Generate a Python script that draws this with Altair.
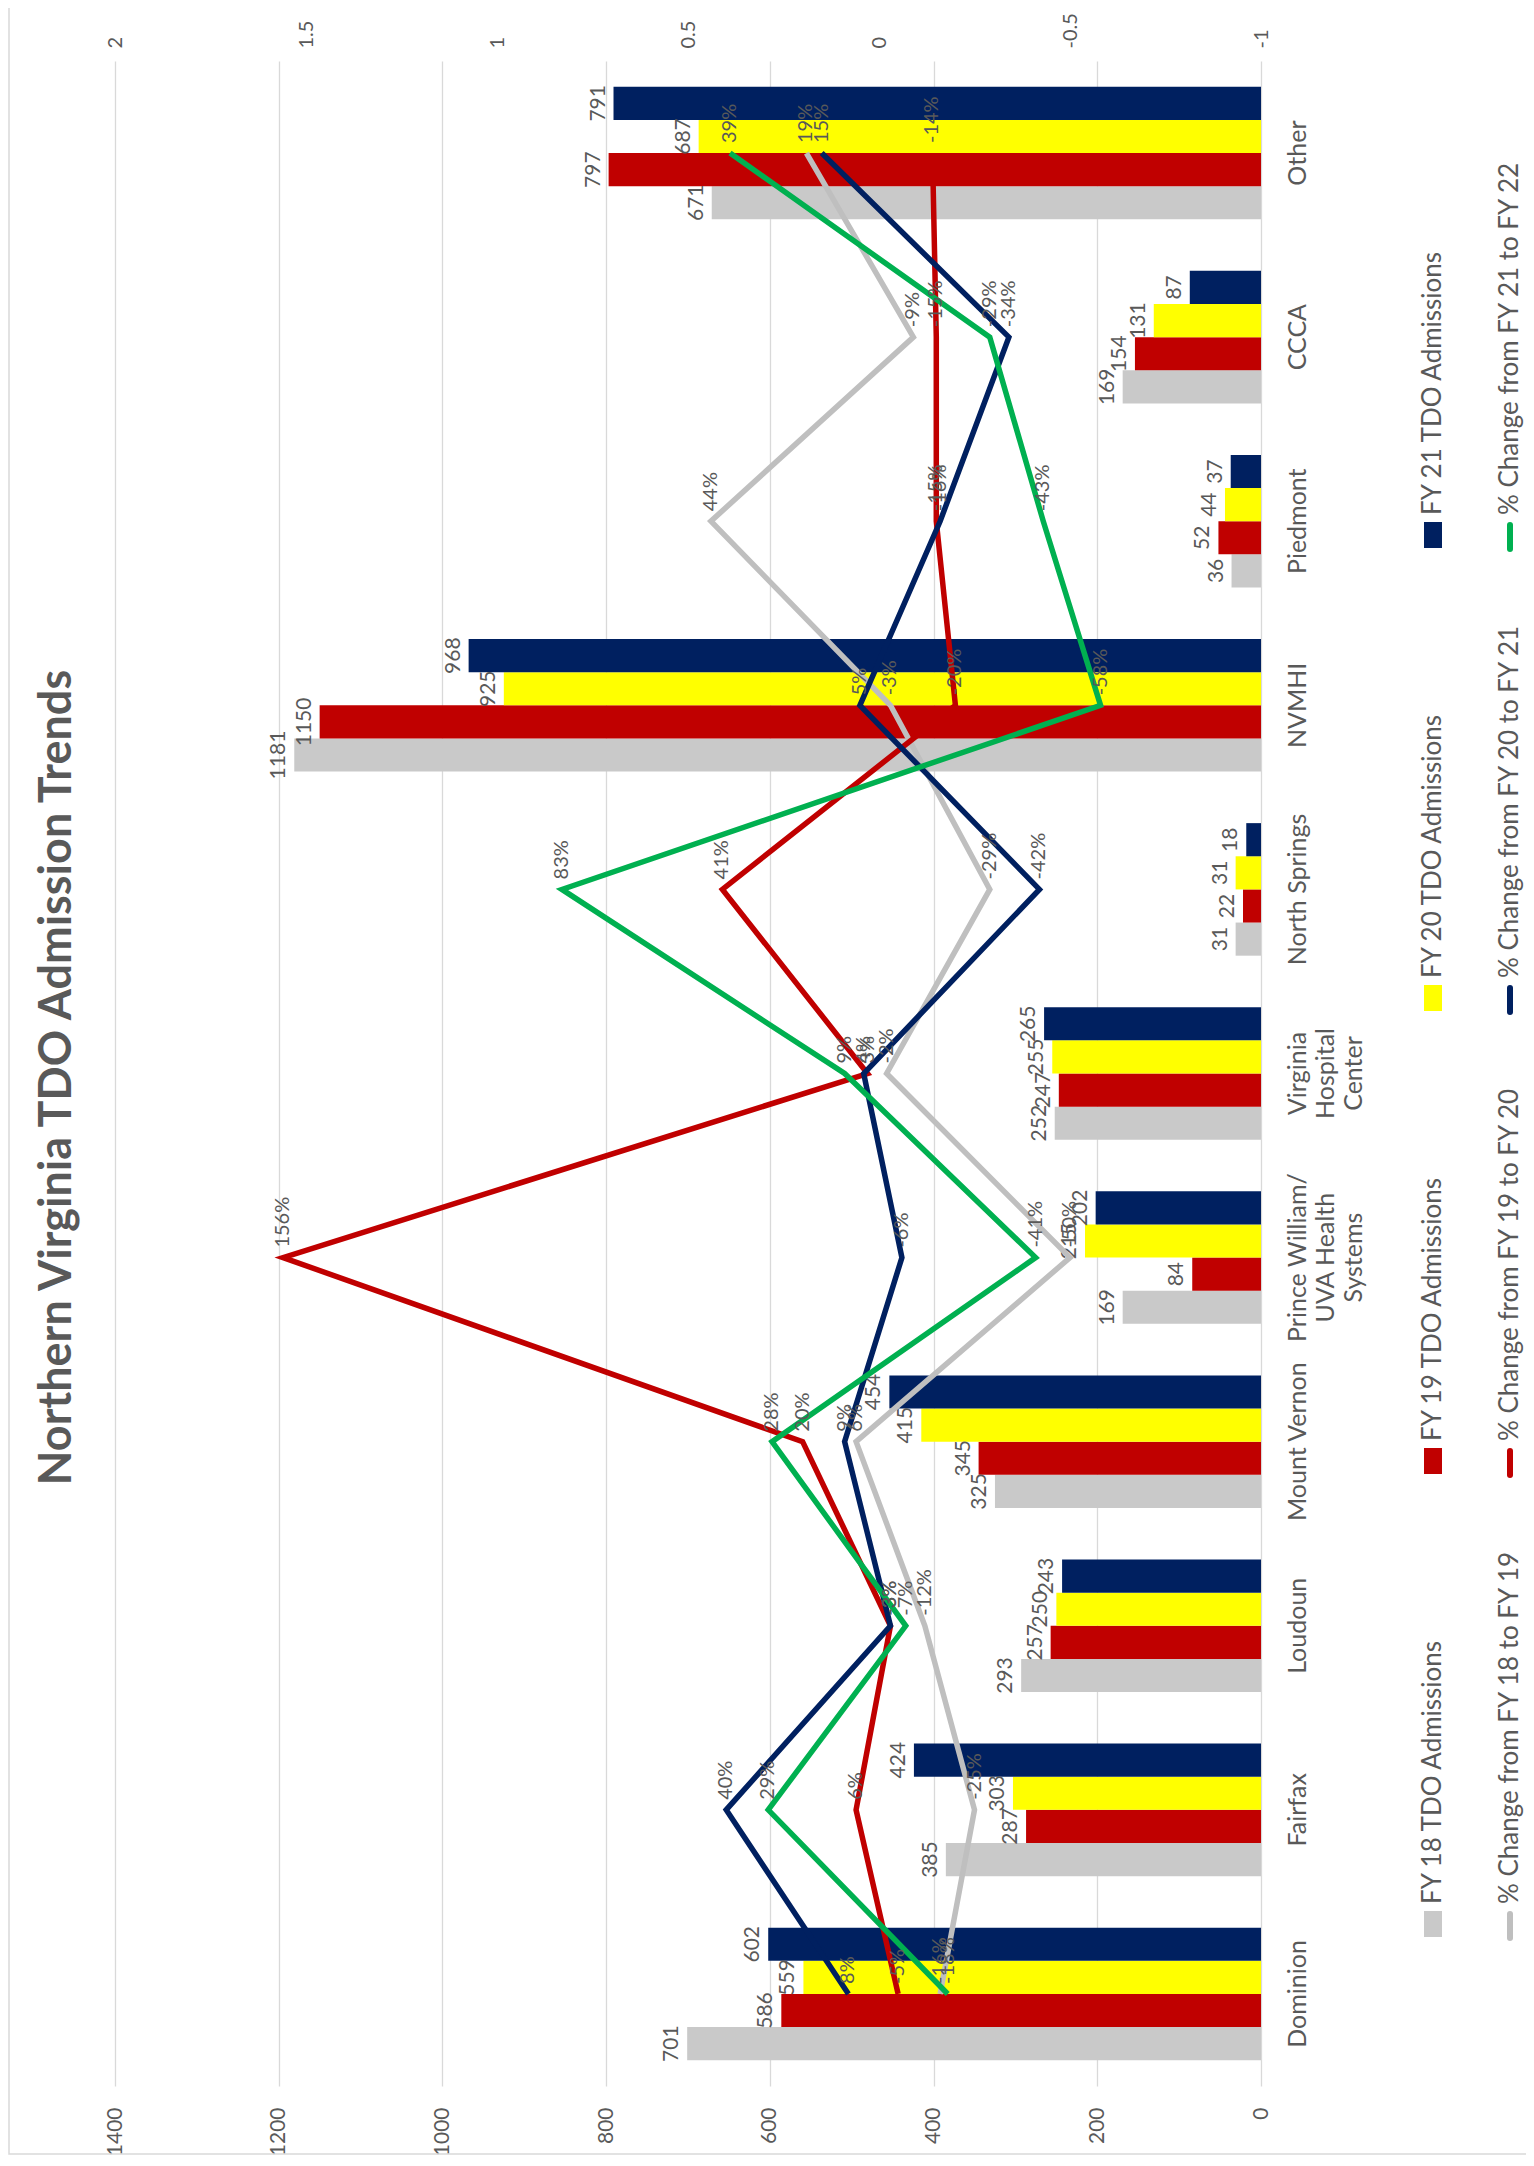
import altair as alt
import pandas as pd

categories = ["Dominion", "Fairfax", "Loudoun", "Mount Vernon",
              "Prince William/ UVA Health Systems", "Virginia Hospital Center",
              "North Springs", "NVMHI", "Piedmont", "CCCA", "Other"]

bar_series = ["FY 18 TDO Admissions", "FY 19 TDO Admissions",
              "FY 20 TDO Admissions", "FY 21 TDO Admissions"]
bar_colors = ["#C9C9C9", "#C00000", "#FFFF00", "#002060"]

fy18 = [701, 385, 293, 325, 169, 252, 31, 1181, 36, 169, 671]
fy19 = [586, 287, 257, 345, 84, 247, 22, 1150, 52, 154, 797]
fy20 = [559, 303, 250, 415, 215, 255, 31, 925, 44, 131, 687]
fy21 = [602, 424, 243, 454, 202, 265, 18, 968, 37, 87, 791]

line_series = ["% Change from FY 18 to FY 19", "% Change from FY 19 to FY 20",
               "% Change from FY 20 to FY 21", "% Change from FY 21 to FY 22"]
line_colors = ["#BFBFBF", "#C00000", "#002060", "#00B050"]

chg_18_19 = [-16, -25, -12, 6, -50, -2, -29, -3, 44, -9, 19]
chg_19_20 = [-5, 6, -3, 20, 156, 3, 41, -20, -15, -15, -14]
chg_20_21 = [8, 40, -3, 9, -6, 4, -42, 5, -16, -34, 15]
chg_21_22 = [-18, 29, -7, 28, -41, 9, 83, -58, -43, -29, 39]

primary_ticks = [0, 200, 400, 600, 800, 1000, 1200, 1400]
secondary_ticks = [-1, -0.5, 0, 0.5, 1, 1.5, 2]

TITLE = "Northern Virginia TDO Admission Trends"
FONT = "Lato"
GREY_TEXT = "#595959"

W, H = 1146, 2025
PAD = {"left": 107, "top": 53, "right": 265, "bottom": 70}

# ---- tables
bar_rows = []
for i, c in enumerate(categories):
    for s, vals in zip(bar_series, [fy18, fy19, fy20, fy21]):
        bar_rows.append({"cat": c, "idx": i, "series": s, "value": vals[i]})
bars_df = pd.DataFrame(bar_rows)

line_rows = []
for s, vals in zip(line_series, [chg_18_19, chg_19_20, chg_20_21, chg_21_22]):
    for i, c in enumerate(categories):
        line_rows.append({"cat": c, "idx": i, "series": s,
                          "pct": vals[i] / 100.0, "lbl": f"{vals[i]}%"})
lines_df = pd.DataFrame(line_rows)

label_expr = ("datum.label == 'Prince William/ UVA Health Systems' ? "
              "['Prince William/', 'UVA Health', 'Systems'] : "
              "datum.label == 'Virginia Hospital Center' ? "
              "['Virginia', 'Hospital', 'Center'] : datum.label")

y_enc = alt.Y("cat:N", sort=categories[::-1],
              scale=alt.Scale(paddingInner=0.28, paddingOuter=0.14),
              axis=alt.Axis(orient="right", title=None, labelAngle=270,
                            labelAlign="center", labelBaseline="top",
                            labelPadding=24, labelFontSize=25, labelFont=FONT,
                            labelColor=GREY_TEXT, domain=False, ticks=False,
                            grid=False, labelExpr=label_expr, labelLineHeight=28))

y_off = alt.YOffset("series:N", sort=bar_series[::-1],
                    scale=alt.Scale(paddingInner=0, paddingOuter=0))

x_primary_scale = alt.Scale(domain=[0, 1400], reverse=True, nice=False, zero=True)
x_primary_axis = alt.Axis(orient="bottom", values=primary_ticks, format="d",
                          title=None, labelAngle=270, labelAlign="right",
                          labelBaseline="middle", labelPadding=21,
                          labelFontSize=21, labelFont=FONT, labelColor=GREY_TEXT,
                          grid=True, gridColor="#D9D9D9", gridWidth=1.3,
                          domain=False, ticks=False)

bars = alt.Chart(bars_df).mark_bar().encode(
    y=y_enc,
    yOffset=y_off,
    x=alt.X("value:Q", scale=x_primary_scale, axis=x_primary_axis),
    color=alt.Color("series:N", scale=alt.Scale(domain=bar_series, range=bar_colors),
                    legend=None),
)

bar_text = alt.Chart(bars_df).mark_text(
    angle=270, align="center", baseline="bottom", dy=-5,
    fontSize=21, font=FONT, color=GREY_TEXT
).encode(
    y=y_enc,
    yOffset=y_off,
    x=alt.X("value:Q", scale=x_primary_scale, axis=x_primary_axis),
    text="value:Q",
)

x_sec_scale = alt.Scale(domain=[-1, 2], reverse=True, nice=False, zero=False)
x_sec_axis = alt.Axis(orient="top", values=secondary_ticks, title=None,
                      labelExpr="datum.value + ''", labelAngle=270,
                      labelAlign="left", labelBaseline="middle",
                      labelPadding=13, labelFontSize=20, labelFont=FONT,
                      labelColor=GREY_TEXT, grid=False, domain=False,
                      ticks=False)

lines = alt.Chart(lines_df).mark_line(strokeWidth=5.5, strokeJoin="miter").encode(
    y=y_enc,
    x=alt.X("pct:Q", scale=x_sec_scale, axis=x_sec_axis),
    color=alt.Color("series:N", scale=alt.Scale(domain=line_series, range=line_colors),
                    legend=None),
    order=alt.Order("idx:Q"),
)

line_text = alt.Chart(lines_df).mark_text(
    angle=270, align="left", baseline="middle", dx=10,
    fontSize=20, font=FONT, color=GREY_TEXT
).encode(
    y=y_enc,
    x=alt.X("pct:Q", scale=x_sec_scale, axis=x_sec_axis),
    text="lbl:N",
)

# ---- manual rotated legend
dummy = pd.DataFrame({"a": [0]})
LEG_X1, LEG_X2 = 1318, 1395
LEG_Y0, LEG_STEP = 1863, 463
legend_layers = []
for k in range(4):
    yc = LEG_Y0 - k * LEG_STEP
    legend_layers.append(
        alt.Chart(dummy).mark_rect(color=bar_colors[k]).encode(
            x=alt.value(LEG_X1 - 9), x2=alt.value(LEG_X1 + 9),
            y=alt.value(yc - 13), y2=alt.value(yc + 13)))
    legend_layers.append(
        alt.Chart(dummy).mark_text(angle=270, align="left", baseline="middle",
                                   fontSize=26, font=FONT, color=GREY_TEXT).encode(
            x=alt.value(LEG_X1), y=alt.value(yc - 20), text=alt.value(bar_series[k])))
    legend_layers.append(
        alt.Chart(dummy).mark_rule(color=line_colors[k], strokeWidth=6,
                                   strokeCap="round").encode(
            x=alt.value(LEG_X2), y=alt.value(yc - 10), y2=alt.value(yc + 14)))
    legend_layers.append(
        alt.Chart(dummy).mark_text(angle=270, align="left", baseline="middle",
                                   fontSize=26, font=FONT, color=GREY_TEXT).encode(
            x=alt.value(LEG_X2), y=alt.value(yc - 20), text=alt.value(line_series[k])))

# rotated chart title (reads bottom-to-top, left of the plot)
title_layer = alt.Chart(dummy).mark_text(
    angle=270, align="center", baseline="middle", fontSize=45, font=FONT,
    fontWeight="bold", color=GREY_TEXT
).encode(x=alt.value(-58), y=alt.value(H / 2 + 4), text=alt.value(TITLE))

# chart-area border (left and bottom edges visible, as in the reference)
border = alt.Chart(dummy).mark_rect(filled=False, color="#D9D9D9", strokeWidth=1.5).encode(
    x=alt.value(-PAD["left"] + 1), x2=alt.value(W + PAD["right"] + 20),
    y=alt.value(-PAD["top"] - 20), y2=alt.value(H + PAD["bottom"] - 2))

primary = alt.layer(bars, bar_text)
secondary = alt.layer(lines, line_text)

chart = alt.layer(border, title_layer, primary, secondary, *legend_layers).resolve_scale(
    x="independent", color="independent"
).properties(
    width=W, height=H,
    autosize=alt.AutoSizeParams(type="none"),
    padding=PAD,
).configure_view(stroke="transparent")

chart.save("out.html", embed_options={"renderer": "svg", "actions": False})
